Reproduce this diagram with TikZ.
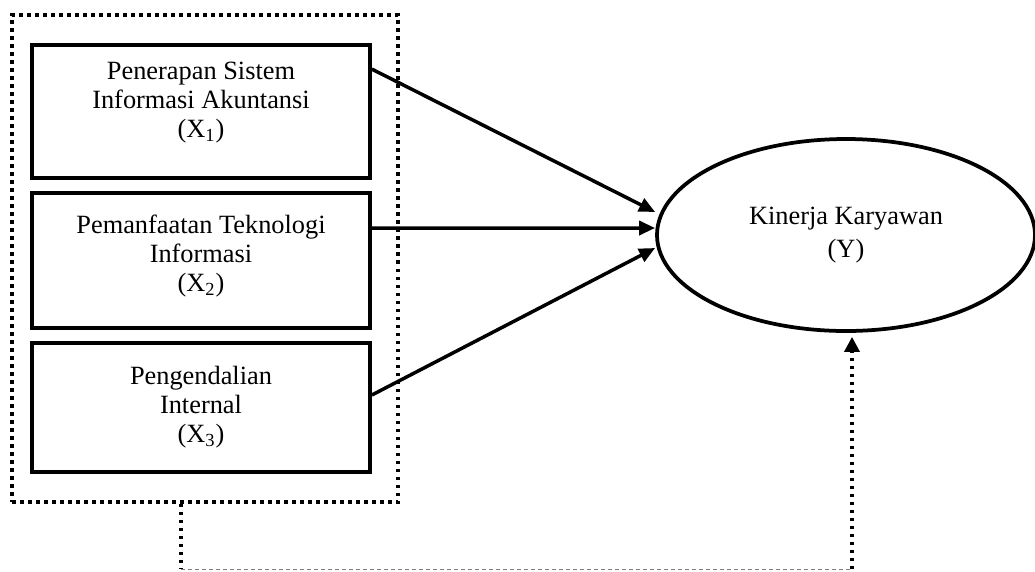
\documentclass[tikz,border=0pt]{standalone}
\usepackage{fontspec}
\setmainfont{Liberation Serif}
\usetikzlibrary{shapes.geometric,arrows.meta}

\begin{document}
\begin{tikzpicture}[
    var/.style={draw, line width=0.075cm, minimum width=6.76cm, inner sep=0pt, align=center, font=\fontsize{15}{16.5}\selectfont},
    dep/.style={draw, ellipse, line width=0.075cm, minimum width=7.56cm, minimum height=3.84cm, inner sep=0pt, align=center, font=\fontsize{15}{19}\selectfont},
    frame/.style={draw, line width=0.07cm, dash pattern=on 0.07cm off 0.09cm, minimum width=7.72cm, minimum height=9.74cm, inner sep=0pt},
    link/.style={line width=0.07cm, -{Triangle[length=0.32cm,width=0.28cm]}},
    dots/.style={line width=0.07cm, dash pattern=on 0.07cm off 0.09cm},
    faint/.style={line width=0.02cm, gray, dash pattern=on 0.08cm off 0.06cm}
]
    \useasboundingbox (0, 0) rectangle (20.7, -11.42);

    \node[frame] (grp) at (4.10, -5.17) {};

    \node[var, minimum height=2.66cm, text depth=0.48cm] (x1) at (4.02, -2.23) {Penerapan Sistem\\Informasi Akuntansi\\(X\textsubscript{1})};
    \node[var, minimum height=2.70cm, text depth=0.28cm] (x2) at (4.02, -5.21) {Pemanfaatan Teknologi\\Informasi\\(X\textsubscript{2})};
    \node[var, minimum height=2.58cm] (x3) at (4.02, -8.15) {Pengendalian\\Internal\\(X\textsubscript{3})};

    \node[dep] (y) at (16.92, -4.70) {Kinerja Karyawan\\(Y)};

    \draw[link] ([yshift=-0.52cm]x1.north east) -- ([yshift=0.46cm]y.west);
    \draw[link] ([yshift=0.65cm]x2.east) -- ([yshift=0.14cm]y.west);
    \draw[link] ([yshift=0.25cm]x3.east) -- ([yshift=-0.26cm]y.west);

    \coordinate (fb1) at (3.62, -11.38);
    \coordinate (fb2) at (17.04, -11.38);
    \draw[dots] (grp.south -| fb1) -- (fb1);
    \draw[faint] (fb1) -- (fb2);
    \draw[dots, -{Triangle[length=0.3cm,width=0.3cm]}] (fb2) -- ([yshift=-0.08cm]y.south -| fb2);
\end{tikzpicture}
\end{document}
